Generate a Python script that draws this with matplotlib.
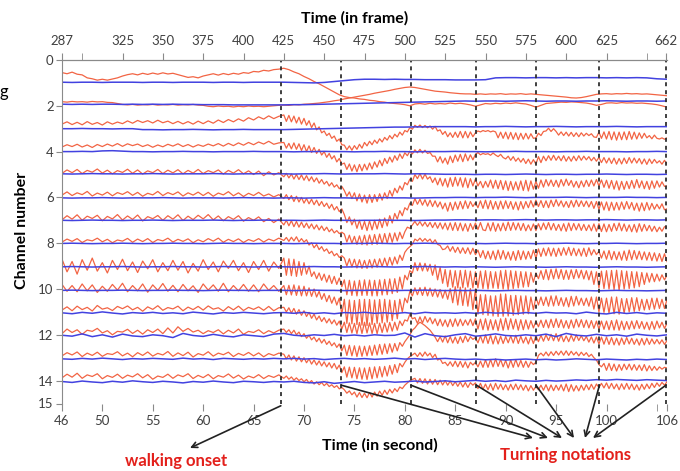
import numpy as np
import matplotlib
matplotlib.use("Agg")
import matplotlib.pyplot as plt

# Red traces, offsets from the channel line (1/100 channel).
# *_rest: every 0.5 s from 46 to 67.5 s; *_walk: from 68 to 106 s (0.5 s for ch1-2, 0.25 s otherwise)
red_ch1_rest = [-45, -40, -47, -38, -35, -22, -18, -12, -16, -12, -17, -22, -30, -36, -40, -35, -42, -37, -43, -38, -44, -39,
                -42, -36, -30, -24, -27, -22, -30, -35, -40, -34, -41, -36, -42, -38, -45, -42, -50, -48, -55, -52, -58, -60]
red_ch1_walk = [-64, -58, -48, -40, -28, -18, -6, 4, 16, 28, 40, 52,
                60, 64, 66, 70, 72, 76, 78, 82, 84, 88, 90, 92, 95, 100,
                92, 90, 93, 89, 92, 90, 92, 88, 91, 89, 92, 96, 102,
                96, 90, 92, 89, 91, 88, 90, 87, 90, 92, 98, 106,
                98, 90, 88, 86, 84, 85, 83, 84, 86, 88, 92, 98,
                94, 88, 87, 89, 86, 88, 87, 89, 88, 90, 92, 95, 100, 106]
red_ch2_rest = [-18, -16, -19, -17, -18, -16, -19, -17, -18, -15, -14, -10,
                -6, -4, -6, -3, -5, -4, -6, -3, -5, -4, -6, -3, -5, -4, -6, -3, -2,
                2, 4, 1, 3, 2, 5, 2, 4, 1, 3, 2, 4, 2, 0, -2]
red_ch2_walk = [-3, -2, -5, -4, -7, -8, -10, -12, -15, -18, -22, -25,
                -30, -34, -38, -42, -46, -50, -55, -59, -63, -67, -72, -76, -80, -82,
                -80, -76, -72, -68, -64, -62, -60, -57, -55, -53, -52, -52, -50,
                -52, -50, -52, -51, -53, -50, -52, -51, -53, -50, -52, -50,
                -48, -46, -44, -42, -40, -38, -35, -34, -36, -40, -45, -50,
                -52, -53, -51, -53, -52, -54, -52, -53, -51, -52, -50, -48, -46, -44]
red_ch3_rest = [-20, -30, -18, -28, -17, -31, -19, -27, -16, -30, -20, -29, -22,
                -34, -24, -36, -27, -35, -25, -37, -26, -33, -22, -32, -21,
                -31, -20, -33, -22, -34, -24, -38, -27, -40, -30, -43, -33,
                -48, -38, -52, -42, -56, -44, -54]
red_ch3_walk = [-60, -32, -58, -30, -55, -25, -50, -20, -45, -15, -35, -5, -25, 5, -8, 18,
                10, 30, 20, 42, 32, 55, 45, 70, 72, 92, 75, 94, 74, 90, 68, 85,
                60, 75, 55, 70, 50, 64, 44, 58, 38, 50, 30, 44, 24, 36, 15, 28,
                8, 14, -5, 2, -15, -6, -16, -5, -14, -4, -12, 2, -10, 10, 5, 25,
                12, 35, 18, 38, 15, 38, 12, 40, 12, 40, 14, 35, 18, 10, 14, 8,
                12, 8, 14, 10, 14, 40, 15, 42, 15, 45, 16, 46, 18, 48, 20, 46,
                20, 45, 22, 42, 40, 20, 30, 12, 10, -2, 12, 0, 12, 28, 14, 30,
                15, 32, 16, 34, 18, 35, 18, 32, 20, 30, 22, 36, 38, 15, 42, 14,
                45, 12, 48, 14, 50, 15, 48, 14, 48, 12, 46, 15, 45, 18, 42, 20,
                40, 30, 44, 28, 42, 45, 40, 46, 40]
red_ch4_rest = [-20, -30, -22, -32, -20, -29, -18, -31, -22, -33, -24, -35, -23, -34,
                -26, -33, -22, -30, -19, -29, -21, -32, -24, -34, -22, -31, -20, -30,
                -23, -33, -25, -35, -24, -36, -26, -38, -28, -40, -30, -42, -33, -45, -32, -38]
red_ch4_walk = [-40, -15, -36, -12, -38, -10, -34, -5, -30, 0, -25, 4, -18, 8, -10, 15,
                0, 25, 8, 32, 18, 45, 30, 55, 50, 78, 54, 85, 58, 88, 56, 84,
                55, 80, 50, 76, 45, 68, 38, 62, 30, 52, 24, 46, 18, 38, 10, 30,
                5, 18, -2, 10, -8, 5, -10, 6, -6, 8, 4, 20, 20, 45, 22, 50,
                28, 55, 20, 48, 15, 42, 12, 44, 10, 40, 14, 36, 12, 4, 14, 8,
                12, 9, 16, 6, 15, 22, 12, 26, 32, 20, 38, 22, 42, 28, 46, 30,
                52, 33, 55, 35, 55, 22, 48, 20, 40, 18, 38, 16, 38, 20, 40, 18,
                42, 22, 42, 20, 40, 18, 38, 20, 36, 22, 40, 25, 42, 25, 48, 26,
                50, 28, 52, 28, 55, 30, 54, 28, 52, 26, 50, 28, 50, 30, 54, 32,
                56, 32, 52, 34, 50, 40, 55, 38, 55]
red_ch5_rest = [-5, -20, -8, -22, -4, -18, -10, -24, -6, -19, -3, -17, -9, -23,
                -5, -20, -2, -16, -8, -22, -4, -19, -7, -21, -3, -18, -6, -22,
                -4, -17, -8, -20, -2, -18, -6, -21, -3, -16, 0, -15, 5, -12, 2, -8]
red_ch5_walk = [10, -5, 15, -2, 20, 0, 22, 2, 25, 5, 28, 10, 32, 15, 38, 22,
                42, 30, 50, 36, 55, 45, 62, 52, 70, 95, 76, 105, 80, 115, 85, 120,
                90, 125, 88, 122, 88, 118, 84, 112, 80, 105, 70, 95, 60, 80, 50, 68,
                35, 45, 20, 30, 0, 18, -4, 20, -2, 20, 10, 35, 15, 45, 16, 50,
                18, 55, 14, 52, 12, 50, 14, 55, 15, 58, 18, 50, 20, 50, 30, 58,
                30, 55, 24, 60, 25, 62, 26, 66, 28, 70, 30, 68, 32, 68, 28, 70,
                25, 72, 28, 64, 30, 60, 24, 55, 22, 50, 24, 52, 25, 55, 22, 50,
                20, 48, 26, 55, 30, 58, 28, 54, 25, 52, 24, 50, 22, 50, 24, 56,
                25, 60, 26, 64, 28, 68, 30, 65, 30, 62, 26, 60, 22, 58, 28, 62,
                30, 65, 28, 60, 28, 55, 32, 52, 50]
red_ch6_rest = [-10, -24, -8, -20, -12, -26, -6, -19, -10, -23, -7, -21, -13, -25,
                -9, -22, -5, -18, -11, -26, -8, -21, -12, -24, -6, -20, -10, -23,
                -8, -22, -5, -19, -11, -25, -7, -20, -4, -18, -8, -22, -6, -15, -2, -12]
red_ch6_walk = [5, -12, 10, -8, 18, -5, 20, 0, 25, 5, 28, 8, 32, 12, 36, 18,
                40, 25, 48, 30, 55, 40, 62, 50, 75, 110, 85, 120, 95, 135, 100, 140,
                105, 145, 102, 142, 100, 138, 95, 132, 90, 125, 80, 112, 70, 95, 58, 80,
                45, 55, 25, 35, 5, 30, 8, 34, 10, 38, 12, 40, 15, 42, 20, 50,
                25, 60, 22, 56, 20, 52, 18, 50, 15, 48, 18, 40, 22, 45, 15, 48,
                12, 50, 14, 52, 18, 52, 16, 50, 15, 48, 18, 52, 20, 55, 18, 50,
                18, 45, 14, 42, 12, 40, 14, 44, 15, 45, 12, 40, 10, 38, 15, 42,
                18, 44, 14, 42, 12, 40, 15, 40, 16, 42, 18, 48, 18, 52, 20, 55,
                20, 58, 21, 56, 22, 55, 20, 52, 18, 50, 22, 56, 25, 60, 24, 58,
                22, 55, 26, 52, 30, 50, 28, 54, 50]
red_ch7_rest = [-2, -20, -5, -24, 0, -18, -8, -22, 2, -17, -6, -25, -1, -19,
                -4, -23, 3, -16, -7, -21, 0, -20, -5, -24, 1, -18, -3, -22,
                -6, -25, -2, -19, 2, -16, -4, -20, 4, -12, 0, -15, 6, -8, 10, -5]
red_ch7_walk = [20, 0, 24, 2, 28, 5, 30, 8, 32, 12, 35, 16, 38, 20, 42, 25,
                45, 30, 50, 38, 55, 45, 58, 52, 60, 95, 65, 100, 70, 105, 68, 106,
                65, 108, 64, 106, 62, 105, 60, 102, 58, 100, 56, 96, 55, 90, 52, 80,
                50, 30, 35, 20, 5, 22, 6, 25, 8, 28, 9, 32, 10, 35, 11, 38,
                12, 42, 11, 44, 10, 45, 12, 46, 15, 48, 14, 40, 12, 40, 10, 42,
                45, 12, 46, 10, 48, 15, 46, 12, 45, 8, 44, 10, 42, 12, 44, 14,
                46, 20, 45, 16, 45, 15, 42, 12, 40, 10, 42, 14, 44, 18, 46, 15,
                48, 12, 45, 14, 42, 15, 44, 18, 45, 20, 46, 16, 48, 15, 49, 16,
                50, 18, 48, 14, 45, 12, 46, 16, 48, 20, 50, 18, 52, 15, 48, 18,
                46, 22, 48, 26, 50, 30, 48, 28, 30]
red_ch8_rest = [-5, -18, -8, -20, -3, -15, -10, -22, -6, -17, -2, -14, -9, -21,
                -4, -18, -7, -20, -3, -16, -10, -22, -5, -17, -8, -19, -2, -15,
                -6, -20, -9, -22, -4, -17, -7, -19, -3, -16, -8, -20, -5, -18, -10, -22]
red_ch8_walk = [-12, -25, -8, -26, -10, -28, -6, -20, -5, -15, 8, -2, 20, 5, 28, 15,
                35, 25, 45, 35, 55, 45, 62, 55, 65, 100, 68, 104, 70, 108, 72, 110,
                75, 110, 72, 108, 70, 105, 68, 102, 65, 100, 62, 96, 60, 90, 52, 75,
                40, 25, 15, 5, -18, -10, -22, -8, -20, -8, -18, 0, -15, 5, 10, 28,
                25, 12, 35, 15, 40, 18, 44, 20, 45, 20, 48, 22, 50, 30, 62, 32,
                68, 35, 70, 34, 72, 30, 70, 32, 70, 38, 74, 36, 75, 32, 72, 34,
                70, 36, 68, 30, 65, 25, 58, 22, 55, 20, 56, 22, 58, 22, 54, 20,
                52, 18, 54, 22, 55, 25, 56, 22, 58, 20, 52, 28, 50, 35, 65, 34,
                70, 32, 72, 36, 72, 38, 74, 34, 75, 30, 72, 32, 70, 35, 72, 38,
                74, 40, 76, 42, 78, 45, 80, 46, 80]
red_ch9_rest = [-30, 25, -20, 35, -28, 18, -35, 22, -15, 30, -25, 15, -30, 20,
                -18, 28, -22, 12, -28, 25, -15, 20, -25, 18, -20, 30, -12, 22,
                -28, 15, -18, 25, -22, 10, -25, 20, -15, 28, -20, 15, -25, 22, -18, 10]
red_ch9_walk = [-35, 40, -32, 42, -30, 45, -20, 40, -15, 35, 0, 45, 25, 55, 30, 62,
                35, 70, 40, 76, 45, 80, 52, 90, 60, 125, 62, 128, 65, 130, 62, 128,
                60, 128, 61, 130, 62, 130, 60, 126, 58, 125, 56, 120, 55, 115, 48, 100,
                40, 60, 20, 30, -15, 20, -14, 21, -12, 22, -8, 40, -5, 60, 5, 75,
                15, 90, 18, 92, 20, 95, 19, 94, 18, 92, 22, 95, 25, 95, 22, 98,
                20, 100, 24, 96, 25, 98, 20, 100, 18, 102, 20, 98, 22, 95, 24, 92,
                25, 90, 28, 70, 30, 55, 20, 58, 15, 60, 14, 56, 12, 55, 15, 58,
                18, 58, 16, 55, 15, 52, 18, 56, 20, 60, 22, 80, 25, 95, 22, 98,
                20, 100, 19, 102, 18, 105, 20, 100, 22, 98, 24, 95, 25, 90, 28, 80,
                30, 70, 32, 68, 35, 65, 38, 60, 40]
red_ch10_rest = [-20, 10, -15, 12, -22, 8, -18, 15, -12, 10, -20, 5, -25, 12,
                 -15, 8, -22, 14, -18, 6, -24, 10, -16, 12, -20, 8, -14, 15,
                 -22, 5, -18, 10, -25, 12, -15, 8, -20, 10, -18, 12, -22, 6, -15, 10]
red_ch10_walk = [-15, 25, -16, 26, -18, 28, -14, 30, -12, 30, -5, 32, 0, 35, 10, 45,
                 20, 55, 28, 62, 35, 70, 40, 110, 45, 150, 48, 152, 50, 155, 46, 158,
                 45, 160, 46, 155, 48, 150, 46, 148, 45, 145, 48, 138, 50, 130, 45, 100,
                 40, 60, 10, 30, -5, 25, -6, 28, -8, 30, -4, 32, 0, 35, 2, 40,
                 5, 45, -2, 60, -10, 70, -8, 72, -5, 75, -2, 90, 0, 110, 25, 112,
                 25, 115, 30, 118, 30, 120, 22, 119, 22, 118, 28, 115, 28, 112, 30, 110,
                 30, 108, 35, 90, 35, 70, 35, 72, 35, 75, 30, 74, 30, 72, 38, 75,
                 38, 78, 32, 74, 32, 70, 40, 72, 40, 75, 35, 88, 35, 100, 40, 102,
                 40, 105, 35, 108, 35, 110, 42, 105, 42, 100, 38, 98, 38, 95, 45, 92,
                 45, 90, 40, 88, 40, 85, 45, 85, 45]
red_ch11_rest = [-8, -22, -5, -25, -10, -20, -4, -28, -12, -18, -6, -24, -14, -26,
                 -9, -20, -3, -22, -11, -27, -7, -19, -13, -25, -5, -21, -10, -24,
                 -8, -26, -12, -18, -4, -23, -9, -25, -6, -20, -11, -22, -7, -24, -5, -18]
red_ch11_walk = [-20, 0, -18, 5, -15, 10, -10, 15, -5, 20, 2, 28, 10, 35, 18, 42,
                 25, 48, 30, 52, 35, 58, 40, 75, 45, 90, 48, 92, 50, 95, 46, 94,
                 45, 92, 48, 94, 50, 95, 49, 90, 48, 88, 46, 84, 45, 80, 40, 60,
                 35, 40, 10, 30, 25, 50, 22, 48, 20, 45, 25, 52, 30, 60, 32, 62,
                 35, 65, 32, 64, 30, 62, 32, 60, 35, 58, 32, 60, 30, 75, 32, 78,
                 30, 80, 34, 78, 35, 82, 30, 80, 28, 78, 30, 75, 32, 80, 34, 78,
                 35, 75, 38, 70, 40, 65, 36, 68, 35, 70, 32, 68, 30, 68, 34, 70,
                 38, 72, 35, 70, 32, 66, 34, 68, 36, 70, 38, 72, 40, 75, 40, 76,
                 40, 78, 38, 79, 35, 80, 40, 78, 42, 76, 40, 74, 38, 72, 42, 75,
                 45, 78, 42, 76, 40, 70, 45, 72, 50]
red_ch12_rest = [-5, -25, -10, -22, -2, -20, -15, -28, -8, -18, 0, -15, -12, -24,
                 -6, -20, -3, -22, -10, -25, -5, -30, -8, -35, -15, -28, -12, -20,
                 -5, -18, -10, -22, -4, -20, -8, -25, -2, -15, -10, -22, -5, -18, -8, -20]
red_ch12_walk = [-25, -10, -22, -5, -20, 0, -12, 8, -5, 15, 2, 22, 10, 30, 15, 36,
                 20, 42, 28, 48, 35, 55, 40, 70, 45, 90, 46, 92, 48, 95, 49, 94,
                 50, 92, 48, 90, 45, 88, 42, 85, 40, 82, 39, 76, 38, 70, 34, 50,
                 30, 15, 0, -20, -30, -45, -55, -48, -40, -30, -20, -5, 10, 30, 8, 32,
                 5, 35, 8, 36, 10, 38, 8, 34, 5, 30, 8, 20, 12, 35, 5, 36,
                 0, 38, 2, 40, 5, 40, 6, 38, 8, 35, 5, 36, 2, 38, 6, 36,
                 10, 40, 8, 38, 5, 30, 2, 28, 0, 25, -2, 26, -5, 28, 0, 30,
                 5, 30, 2, 28, 0, 25, 4, 26, 8, 32, 9, 36, 10, 40, 10, 41,
                 10, 42, 12, 44, 15, 45, 14, 42, 12, 40, 15, 42, 18, 45, 16, 44,
                 15, 42, 18, 40, 20, 40, 22, 42, 25]
red_ch13_rest = [-8, -22, -12, -25, -5, -20, -10, -24, -6, -18, -14, -26, -8, -20,
                 -4, -22, -10, -25, -7, -19, -12, -27, -6, -21, -9, -24, -3, -18,
                 -11, -26, -7, -20, -13, -24, -5, -19, -10, -23, -8, -21, -4, -18, -10, -20]
red_ch13_walk = [-15, 5, -12, 10, -8, 15, -4, 18, 0, 22, 5, 28, 10, 32, 14, 36,
                 18, 40, 22, 45, 25, 50, 32, 65, 40, 85, 41, 88, 42, 92, 44, 94,
                 45, 95, 42, 92, 40, 88, 39, 84, 38, 80, 34, 72, 30, 65, 25, 40,
                 20, 5, -5, -12, -20, -5, -22, -6, -25, -8, -20, 0, -15, 10, 5, 25,
                 20, 35, 18, 38, 15, 40, 16, 42, 18, 45, 20, 32, 20, 40, 15, 42,
                 10, 42, 8, 40, 5, 38, 8, 40, 12, 45, 10, 42, 8, 40, 12, 42,
                 15, 42, 18, 30, 20, -10, -20, -8, -25, -8, -26, -10, -28, -12, -29, -11,
                 -30, -10, -28, -12, -25, -8, -24, -10, -22, -5, -15, 0, 10, 30, 40, 25,
                 55, 25, 56, 28, 58, 30, 55, 28, 52, 28, 54, 30, 55, 32, 56, 30,
                 58, 35, 56, 38, 55, 40, 50, 42, 45]
red_ch14_rest = [-12, -28, -15, -32, -10, -25, -18, -30, -8, -22, -14, -28, -10, -24,
                 -16, -30, -12, -26, -6, -20, -14, -28, -10, -25, -17, -30, -9, -23,
                 -13, -27, -8, -22, -15, -29, -11, -24, -7, -20, -12, -26, -9, -22, -14, -25]
red_ch14_walk = [-10, -20, -6, -16, -2, -12, 0, -8, 5, -5, 10, 0, 15, 5, 18, 8,
                 22, 12, 26, 18, 30, 22, 36, 30, 40, 55, 45, 62, 50, 72, 52, 74,
                 55, 75, 52, 72, 50, 68, 46, 64, 42, 60, 38, 54, 35, 48, 28, 35,
                 20, 10, 0, -5, -10, 10, -9, 12, -8, 15, -6, 16, -5, 18, -2, 19,
                 0, 20, 2, 22, 5, 25, 6, 28, 8, 30, 9, 20, 10, 35, 12, 38,
                 15, 40, 14, 42, 12, 38, 15, 40, 18, 42, 16, 40, 15, 40, 18, 42,
                 20, 45, 22, 42, 25, 40, 20, 42, 18, 45, 19, 44, 20, 42, 18, 45,
                 15, 48, 18, 46, 22, 45, 20, 42, 18, 40, 16, 38, 15, 30, 12, 32,
                 10, 35, 12, 36, 15, 40, 14, 38, 12, 38, 15, 40, 18, 42, 16, 38,
                 15, 35, 12, 30, 10, 25, 8, 20, 5]

# Blue traces: offsets from the channel line (1/100 channel), every 1 s from 46 to 106 s
blue_ch1 = [-3, -2, -3, -3, -2, -3, -3, -3, -2, -3, -3, -2, -3, -3, -3, -2, -3, -3, -2, -3, -3, -3,
            -3, -2, -1, 0, -2, -6, -10, -14,
            -16, -16, -15, -16, -15, -15, -14, -14, -14, -13, -13, -13, -14,
            -22, -23, -23, -22, -23, -23, -22, -23, -22, -23, -23, -22, -23, -22, -23, -22, -18, -16]
blue_ch2 = [-7, -6, -7, -6, -7, -7, -6, -7, -6, -7, -6, -7, -6, -6, -5, -5, -5, -4, -4, -4, -4, -4,
            -4, -5, -5, -6, -7, -8, -9, -10, -11, -12, -13, -14, -15, -16, -17, -18, -19, -20,
            -21, -20, -21, -21, -20, -21, -22, -21, -20, -21, -21, -20, -21, -21, -22, -21, -20, -21, -21, -20, -21]
blue_ch3 = [0, 0, -1, 0, 0, 1, 0, 0, 4, 4, 5, 4, 4, 3, 4, 5, 4, 4, 3, 4, 4, 4,
            4, 3, 2, 1, 0, -1, -2, -3, -4, -5, -6, -7, -7, -8, -8, -9, -9, -9,
            -9, -8, -9, -9, -10, -9, -8, -9, -9, -10, -9, -8, -9, -9, -9, -10, -9, -8, -9, -9, -9]
blue_ch4 = [0, 0, -1, 0, -3, -4, -2, 0, 0, 1, 0, 0, -1, 0, 0, 1, 0, 0, 0, -1, 0, 0,
            0, 1, 0, 0, -1, 0, 0, 1, 0, 0, -1, 0, 0, 1, 0, 0, 0, -1,
            0, 0, 1, 0, 0, -1, 0, 0, 0, 1, 0, 0, -1, 0, 0, 0, 1, 0, 0, -1, 0]
blue_ch5 = [-3, -2, -3, -4, -3, -3, -2, -3, -3, -4, -3, -2, -3, -3, -3, -4, -3, -2, -3, -3, -4, -3,
            -3, -2, -3, -3, -4, -3, -2, -3, -3, -3, -4, -3, -2, -3, -3, -2, -1, -1,
            -1, 0, -1, -1, 0, -1, -2, -1, 0, -1, -1, 0, -1, -1, -2, -1, 0, -1, -1, 0, -1]
blue_ch6 = [2, 3, 2, 2, 1, 2, 3, 2, 2, 2, 1, 2, 3, 2, 2, 2, 3, 2, 1, 2, 2, 3,
            2, 2, 3, 2, 1, 2, 2, 3, 2, 2, 1, 2, 2, 3, 2, 1, 1, 0,
            0, 1, 0, 0, -1, 0, 1, 0, 0, 0, -1, 0, 1, 0, 0, 0, -1, 0, 0, 1, 0]
blue_ch7 = [0, 1, 0, -1, 0, 0, 1, 0, 0, -1, 0, 1, 0, 0, 0, -1, 0, 1, 0, 0, -1, 0,
            0, 0, 1, 0, -1, 0, 0, 1, 0, 0, -1, 0, 0, 1, 0, -1, -1, -2,
            -2, -1, -2, -2, -1, -2, -3, -2, -1, -2, -2, -1, -2, -2, -3, -2, -1, -2, -2, -1, -2]
blue_ch8 = [1, 0, 1, 2, 1, 1, 0, 1, 2, 1, 1, 0, 1, 1, 2, 1, 0, 1, 1, 2, 1, 1,
            1, 2, 1, 0, 1, 1, 2, 1, 1, 0, 1, 2, 1, 1, 0, 1, 2, 1,
            1, 1, 2, 1, 0, 1, 1, 2, 1, 1, 0, 1, 2, 1, 1, 0, 1, 2, 1, 1, 0]
blue_ch9 = [3, 2, 3, 4, 3, 3, 2, 3, 4, 3, 3, 2, 3, 3, 4, 3, 2, 3, 3, 4, 3, 3,
            3, 4, 3, 2, 3, 3, 4, 3, 3, 2, 3, 4, 3, 3, 2, 3, 4, 3,
            4, 3, 4, 5, 4, 3, 4, 4, 5, 4, 3, 4, 4, 5, 4, 3, 4, 4, 5, 4, 3]
blue_ch10 = [6, 5, 6, 7, 6, 6, 5, 6, 7, 6, 6, 5, 6, 6, 7, 6, 5, 6, 6, 7, 6, 6,
             6, 7, 6, 5, 6, 6, 7, 6, 6, 5, 6, 7, 6, 6, 5, 6, 7, 6,
             7, 6, 7, 8, 7, 6, 7, 7, 8, 7, 6, 7, 7, 8, 7, 6, 7, 7, 8, 7, 6]
blue_ch11 = [4, 8, 2, 6, 0, 5, 9, 3, 6, 2, 7, 4, 8, 1, 5, 9, 3, 6, 2, 5, 8, 4,
             3, 6, 2, 7, 4, 8, 3, 5, 2, 6, 4, 7, 3, 8, 2, 5, 4, 6,
             3, 6, 2, 5, 4, 7, 3, 6, 2, 5, 4, 8, 1, 6, 9, 2, 7, 3, 8, 4, 6]
blue_ch12 = [2, 6, -4, 8, 0, 10, -3, 5, 8, 0, 4, 12, -6, 3, 7, -2, 5, 9, 0, 4, 8, -3,
             -6, 2, 5, 0, 3, -2, 4, 1, 5, 0, 3, 2, -8, 10, -5, 4, 8, 0,
             -5, 6, 2, -4, 3, 5, 0, 4, -3, 8, -6, 2, 5, -2, 4, 0, 6, -3, 2, 5, 0]
blue_ch13 = [5, 7, 3, 6, 2, 5, 8, 4, 6, 3, 5, 7, 2, 6, 4, 8, 3, 5, 7, 4, 6, 3,
             5, 3, 6, 4, 8, 5, 3, 6, 4, 7, 5, 2, 6, 4, 8, 5, 3, 6,
             8, 6, 9, 7, 10, 8, 6, 9, 7, 10, 8, 5, 7, 9, 6, 8, 10, 7, 9, 6, 8]
blue_ch14 = [4, 8, 2, 6, 9, 3, 7, 1, 5, 8, 3, 6, 10, 4, 7, 2, 6, 9, 3, 5, 8, 4,
             6, 3, 8, 10, 5, 12, 8, 4, 9, 6, 3, 7, 5, 2, 6, 4, 1, 5,
             2, -1, 3, 0, 4, -2, 1, 3, -1, 2, 0, -3, -1, -4, -2, -5, -3, -1, -4, -2, 0]

channels = list(range(1, 15))
red_rest = [red_ch1_rest, red_ch2_rest, red_ch3_rest, red_ch4_rest, red_ch5_rest, red_ch6_rest, red_ch7_rest,
            red_ch8_rest, red_ch9_rest, red_ch10_rest, red_ch11_rest, red_ch12_rest, red_ch13_rest, red_ch14_rest]
red_walk = [red_ch1_walk, red_ch2_walk, red_ch3_walk, red_ch4_walk, red_ch5_walk, red_ch6_walk, red_ch7_walk,
            red_ch8_walk, red_ch9_walk, red_ch10_walk, red_ch11_walk, red_ch12_walk, red_ch13_walk, red_ch14_walk]
blue_traces = [blue_ch1, blue_ch2, blue_ch3, blue_ch4, blue_ch5, blue_ch6, blue_ch7,
               blue_ch8, blue_ch9, blue_ch10, blue_ch11, blue_ch12, blue_ch13, blue_ch14]

onset_time = 67.7
turn_times = [73.7, 80.6, 87.1, 93.0, 99.3, 105.9]

sec_ticks = [46, 50, 55, 60, 65, 70, 75, 80, 85, 90, 95, 100, 106]
sec_minor = [105]
frame_ticks = [287.5, 325, 350, 375, 400, 425, 450, 475, 500, 525, 550, 575, 600, 625, 662]
frame_labels = ["287", "325", "350", "375", "400", "425", "450", "475", "500",
                "525", "550", "575", "600", "625", "662"]
frame_minor = [300, 650]
chan_ticks = [0, 2, 4, 6, 8, 10, 12, 14, 15]
fps = 6.25

RED = "#f26444"
BLUE = "#4242e0"
GRID = "#303030"
AXIS = "#8a8a8a"
TXT_RED = "#e3201b"

plt.rcParams['font.family'] = ['Lato', 'DejaVu Sans']

W, H = 680, 471
fig = plt.figure(figsize=(W / 100, H / 100), dpi=100)
ax = fig.add_axes([62 / W, 1 - 403.5 / H, 605 / W, 343.5 / H])

for ch, rest, walk in zip(channels, red_rest, red_walk):
    t = np.concatenate([np.linspace(46, 67.5, len(rest)), np.linspace(68, 106, len(walk))])
    ax.plot(t, ch + np.array(rest + walk) / 100, color=RED, lw=0.9)
for ch, vals in zip(channels, blue_traces):
    t = np.linspace(46, 106, len(vals))
    ax.plot(t, ch + np.array(vals) / 100, color=BLUE, lw=1.1)

for x in [onset_time] + turn_times:
    ax.axvline(x, color=GRID, ls=(0, (2.2, 2.2)), lw=1.3)

ax.set_xlim(46, 106)
ax.set_ylim(15, 0)
ax.set_xticks(sec_ticks)
ax.set_xticks(sec_minor, minor=True)
ax.set_yticks(chan_ticks)
ax.set_yticklabels([str(c) for c in chan_ticks])
for s in ["right", "bottom"]:
    ax.spines[s].set_visible(False)
for s in ["left", "top"]:
    ax.spines[s].set_color(AXIS)
ax.tick_params(axis="x", which="both", direction="out", length=5, color=AXIS,
               labelcolor="#404040", labelsize=9.5, pad=3)
ax.tick_params(axis="y", direction="out", length=4, color=AXIS,
               labelcolor="#404040", labelsize=9.5, pad=2)

top = ax.secondary_xaxis("top", functions=(lambda s: s * fps, lambda f: f / fps))
top.set_xticks(frame_ticks)
top.set_xticklabels(frame_labels)
top.set_xticks(frame_minor, minor=True)
top.spines["top"].set_color(AXIS)
top.tick_params(which="both", direction="out", length=5, color=AXIS,
                labelcolor="#404040", labelsize=9.5, pad=4)

fig.text(355 / W, 1 - 18 / H, "Time (in frame)", ha="center", va="center",
         fontsize=11.5, fontweight="bold")
fig.text(380 / W, 1 - 445 / H, "Time (in second)", ha="center", va="center",
         fontsize=11.5, fontweight="bold")
fig.text(22 / W, 1 - 230 / H, "Channel number", ha="center", va="center",
         rotation=90, fontsize=11.5, fontweight="bold")
fig.text(176 / W, 1 - 461 / H, "walking onset", ha="center", va="center",
         fontsize=12, fontweight="bold", color=TXT_RED)
fig.text(566 / W, 1 - 455 / H, "Turning notations", ha="center", va="center",
         fontsize=12, fontweight="bold", color=TXT_RED)
fig.text(0.0, 1 - 92 / H, "g", ha="left", va="center", fontsize=12)

arrow = dict(arrowstyle="->", color="#222222", lw=1.2, shrinkA=0, shrinkB=0)
ax.annotate("", xy=(190, H - 448), xycoords="figure pixels",
            xytext=(onset_time, 15.1), textcoords="data", arrowprops=arrow)
heads = [533, 548, 562, 574, 585, 593]
for x, hx in zip(turn_times, heads):
    ax.annotate("", xy=(hx, H - 438), xycoords="figure pixels",
                xytext=(x, 14.2), textcoords="data", arrowprops=arrow)

fig.savefig("out.png", dpi=100)
